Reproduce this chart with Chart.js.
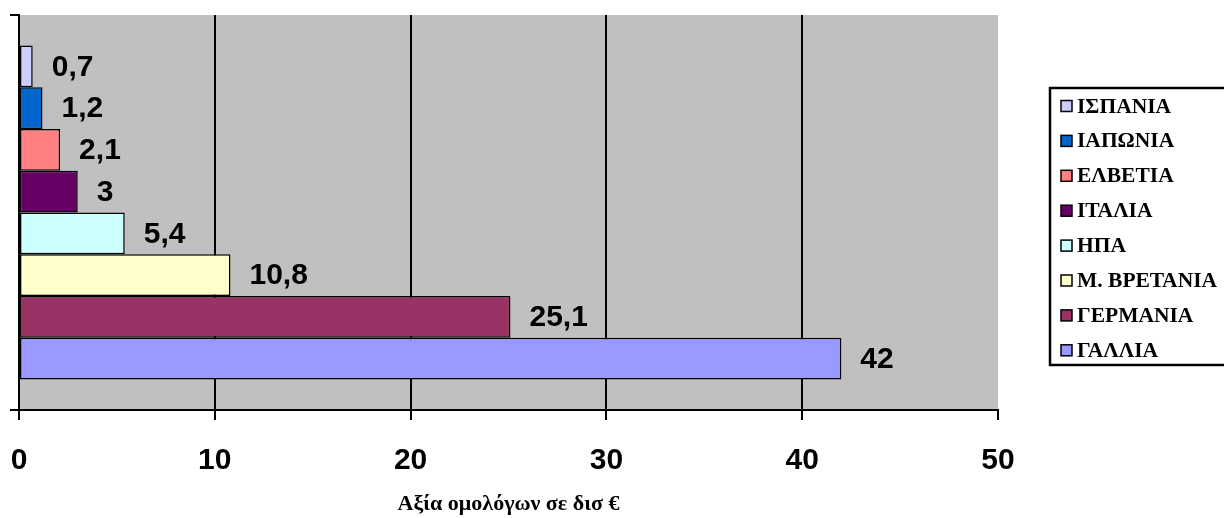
<!DOCTYPE html>
<html>
<head>
<meta charset="utf-8">
<script src="https://cdn.jsdelivr.net/npm/chart.js@4/dist/chart.umd.min.js"></script>
<style>
  html, body { margin: 0; padding: 0; background: #ffffff; }
  #c { display: block; }
</style>
</head>
<body>
<canvas id="c" width="1224" height="518"></canvas>
<script>
// Bond values by country (billion €), top to bottom
const countries = ['ΙΣΠΑΝΙΑ', 'ΙΑΠΩΝΙΑ', 'ΕΛΒΕΤΙΑ', 'ΙΤΑΛΙΑ', 'ΗΠΑ', 'Μ. ΒΡΕΤΑΝΙΑ', 'ΓΕΡΜΑΝΙΑ', 'ΓΑΛΛΙΑ'];
const values = [0.7, 1.2, 2.1, 3, 5.4, 10.8, 25.1, 42];
const colors = ['#ccccff', '#0066cc', '#ff8080', '#660066', '#ccffff', '#ffffcc', '#993366', '#9999ff'];
const xTicks = [0, 10, 20, 30, 40, 50];
const axisTitle = 'Αξία ομολόγων σε δισ €';

const fmt = v => String(v).replace('.', ',');

const datasets = countries.map((name, i) => ({
  label: name,
  data: [values[i]],
  backgroundColor: colors[i],
  borderColor: '#000000',
  borderWidth: 1.5,
  borderSkipped: false,
  categoryPercentage: 0.846,
  barPercentage: 1.0
}));

// Grey plot background
const plotBg = {
  id: 'plotBg',
  beforeDraw(chart) {
    const { ctx, chartArea: a } = chart;
    ctx.save();
    ctx.fillStyle = '#c0c0c0';
    ctx.fillRect(a.left, a.top, a.right - a.left, a.bottom - a.top);
    ctx.restore();
  }
};

// Value labels to the right of each bar
const valueLabels = {
  id: 'valueLabels',
  afterDatasetsDraw(chart) {
    const { ctx } = chart;
    ctx.save();
    ctx.font = 'bold 30px "Liberation Sans", Arial, sans-serif';
    ctx.fillStyle = '#000000';
    ctx.textAlign = 'left';
    ctx.textBaseline = 'middle';
    chart.data.datasets.forEach((ds, i) => {
      const bar = chart.getDatasetMeta(i).data[0];
      ctx.fillText(fmt(ds.data[0]), bar.x + 19, bar.y + 1);
    });
    ctx.restore();
  }
};

// Boxed legend on the right
const boxLegend = {
  id: 'boxLegend',
  afterDraw(chart) {
    const { ctx } = chart;
    ctx.save();
    ctx.strokeStyle = '#000000';
    ctx.lineWidth = 2.5;
    ctx.strokeRect(1050, 88, 190, 277);
    ctx.font = 'bold 21.5px "Liberation Serif", "Times New Roman", serif';
    ctx.textAlign = 'left';
    ctx.textBaseline = 'middle';
    chart.data.datasets.forEach((ds, i) => {
      const cy = 106 + i * 34.9;
      ctx.fillStyle = ds.backgroundColor;
      ctx.fillRect(1061, cy - 5.5, 11, 11);
      ctx.lineWidth = 1.5;
      ctx.strokeRect(1061, cy - 5.5, 11, 11);
      ctx.fillStyle = '#000000';
      ctx.fillText(ds.label, 1077, cy + 1);
    });
    ctx.restore();
  }
};

new Chart(document.getElementById('c'), {
  type: 'bar',
  data: { labels: [''], datasets },
  plugins: [plotBg, valueLabels, boxLegend],
  options: {
    indexAxis: 'y',
    responsive: false,
    animation: false,
    devicePixelRatio: 1,
    layout: { padding: { top: 15, right: 226, left: 0, bottom: 0 } },
    plugins: {
      legend: { display: false },
      tooltip: { enabled: false }
    },
    scales: {
      x: {
        type: 'linear',
        min: xTicks[0],
        max: xTicks[xTicks.length - 1],
        afterBuildTicks(scale) { scale.ticks = xTicks.map(v => ({ value: v })); },
        afterFit(scale) {
          scale.height = 108;
          scale.paddingLeft = 0;
          scale.paddingRight = 0;
        },
        ticks: {
          color: '#000000',
          padding: 23,
          maxRotation: 0,
          font: { family: '"Liberation Sans", Arial, sans-serif', size: 30, weight: 'bold' }
        },
        grid: {
          color: ctx => (ctx.tick && ctx.tick.value === 50 ? 'rgba(0,0,0,0)' : '#000000'),
          tickColor: '#000000',
          lineWidth: 2,
          tickLength: 10
        },
        border: { display: true, color: '#000000', width: 2 },
        title: {
          display: true,
          text: axisTitle,
          color: '#000000',
          padding: { top: 0, bottom: 0 },
          font: { family: '"Liberation Serif", "Times New Roman", serif', size: 22, weight: 'bold' }
        }
      },
      y: {
        type: 'category',
        afterFit(scale) { scale.width = 19; },
        ticks: { display: false },
        grid: {
          offset: true,
          drawOnChartArea: false,
          color: '#000000',
          lineWidth: 2,
          tickLength: 9
        },
        border: { display: true, color: '#000000', width: 2 }
      }
    }
  }
});
</script>
</body>
</html>
